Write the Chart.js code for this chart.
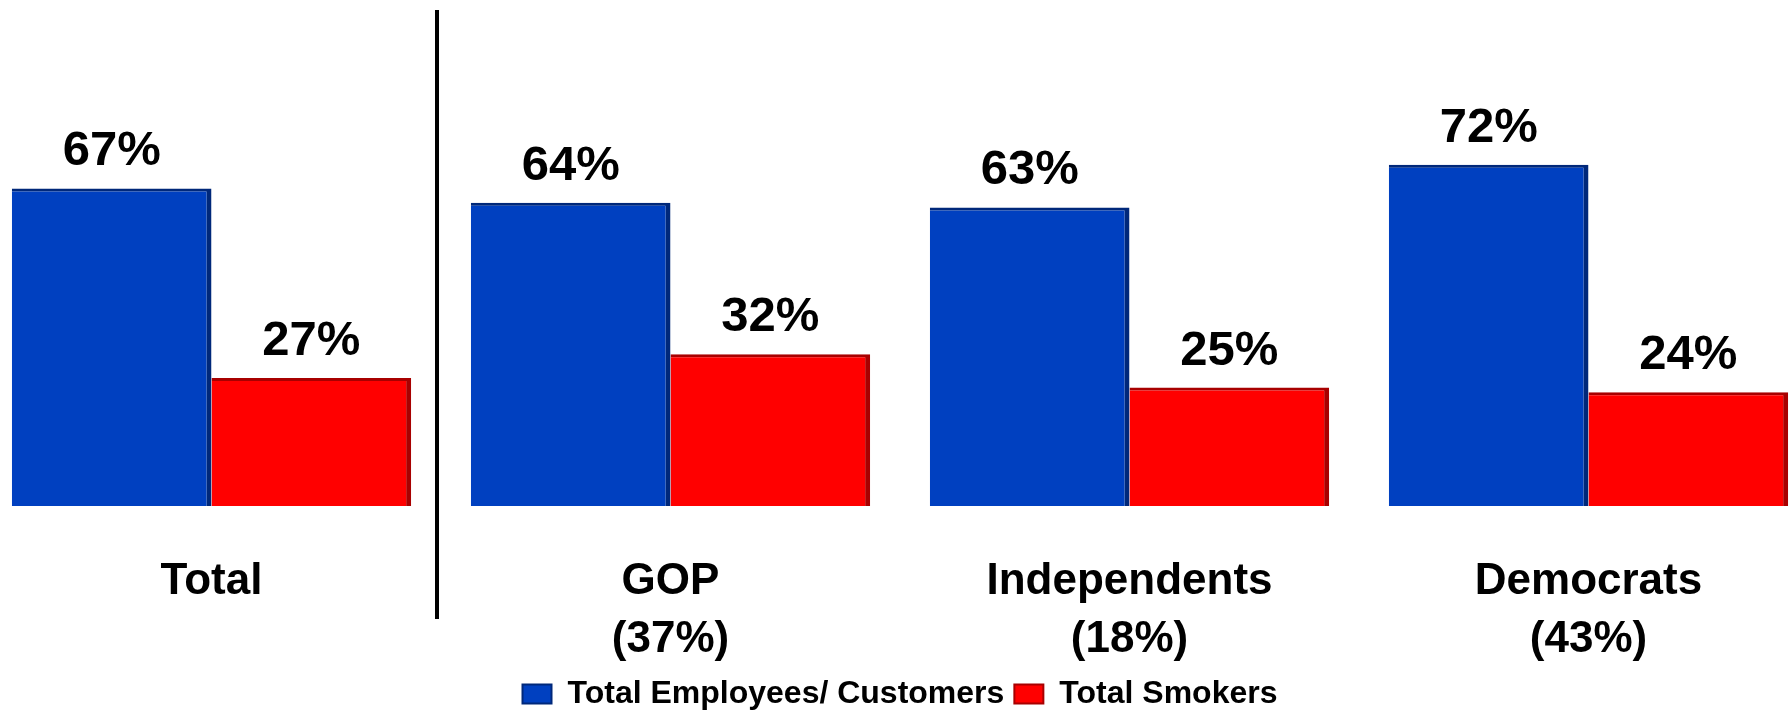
<!DOCTYPE html>
<html>
<head>
<meta charset="UTF-8">
<style>
  body { margin: 0; background: #fff; overflow: hidden; }
  .wrap { position: absolute; left: -18px; top: 0; width: 1836px; height: 711px; }
</style>
</head>
<body>
<div class="wrap"><canvas id="myChart" width="1836" height="711"></canvas></div>
<script src="https://cdn.jsdelivr.net/npm/chart.js"></script>
<script>
// data
var groupNames = ['Total', 'GOP', 'Independents', 'Democrats'];
var groupShares = ['', '(37%)', '(18%)', '(43%)'];
var seriesNames = ['Total Employees/ Customers', 'Total Smokers'];
var employeesCustomers = [67, 64, 63, 72];
var smokers = [27, 32, 25, 24];

var labels = groupNames.map(function (n, i) {
  return groupShares[i] ? [n, groupShares[i]] : [n];
});

// value labels above the bars
var valueLabels = {
  id: 'valueLabels',
  afterDatasetsDraw: function (chart) {
    var ctx = chart.ctx;
    ctx.save();
    ctx.font = 'bold 49px "Liberation Sans", Arial, sans-serif';
    ctx.fillStyle = '#000';
    ctx.textAlign = 'center';
    ctx.textBaseline = 'alphabetic';
    chart.data.datasets.forEach(function (ds, di) {
      chart.getDatasetMeta(di).data.forEach(function (bar, i) {
        ctx.fillText(ds.data[i] + '%', bar.x, bar.y - 23);
      });
    });
    ctx.restore();
  }
};

// black divider between "Total" and the party groups
var divider = {
  id: 'divider',
  afterDraw: function (chart) {
    var x = chart.scales.x;
    var px = (x.getPixelForValue(0) + x.getPixelForValue(1)) / 2 - 4;
    var ctx = chart.ctx;
    ctx.save();
    ctx.strokeStyle = '#000';
    ctx.lineWidth = 4;
    ctx.beginPath();
    ctx.moveTo(px, 10);
    ctx.lineTo(px, 619);
    ctx.stroke();
    ctx.restore();
  }
};

var data = {
  labels: labels,
  datasets: [{
    label: seriesNames[0],
    data: employeesCustomers,
    backgroundColor: '#0040C0',
    borderColor: '#00287A',
    borderWidth: { top: 3, right: 5, left: 0, bottom: 0 },
    borderSkipped: false
  }, {
    label: seriesNames[1],
    data: smokers,
    backgroundColor: '#FF0000',
    borderColor: '#A80000',
    borderWidth: { top: 3, right: 5, left: 0, bottom: 0 },
    borderSkipped: false
  }]
};

var config = {
  type: 'bar',
  data: data,
  options: {
    responsive: false,
    animation: false,
    devicePixelRatio: 1,
    layout: { padding: { top: 32, left: 0, right: 0, bottom: -9 } },
    datasets: { bar: { categoryPercentage: 0.87, barPercentage: 1.0 } },
    scales: {
      x: {
        grid: { display: false, drawTicks: false },
        border: { display: false },
        afterFit: function (scale) { scale.height = 162; },
        ticks: {
          color: '#000',
          padding: 47,
          maxRotation: 0,
          autoSkip: false,
          font: { family: '"Liberation Sans", Arial, sans-serif', size: 44, weight: 'bold', lineHeight: 1.318 }
        }
      },
      y: {
        display: false,
        min: 0,
        max: 100
      }
    },
    plugins: {
      tooltip: { enabled: false },
      legend: {
        position: 'bottom',
        labels: {
          color: '#000',
          boxWidth: 29,
          boxHeight: 19,
          padding: 10,
          font: { family: '"Liberation Sans", Arial, sans-serif', size: 32, weight: 'bold' }
        }
      }
    }
  },
  plugins: [valueLabels, divider]
};

window.myChart = new Chart(document.getElementById('myChart'), config);
</script>
</body>
</html>
